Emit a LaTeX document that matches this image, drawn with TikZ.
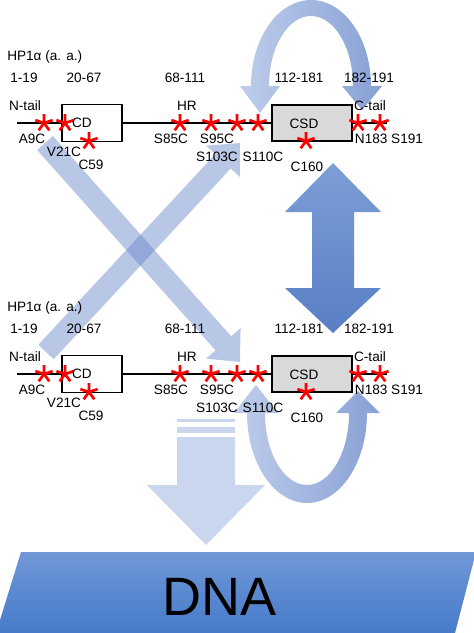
\documentclass[tikz,border=0pt]{standalone}
\usepackage{fontspec}
\setmainfont{Liberation Sans}
\usetikzlibrary{calc}

\definecolor{crossblue}{RGB}{100,130,200}
\definecolor{arcpale}{RGB}{190,205,235}
\definecolor{arcdeep}{RGB}{135,160,212}
\definecolor{bigtop}{RGB}{125,158,214}
\definecolor{bigbot}{RGB}{88,126,198}
\definecolor{downblue}{RGB}{201,214,238}
\definecolor{dnatop}{RGB}{112,152,216}
\definecolor{dnabot}{RGB}{70,122,201}
\definecolor{csdgray}{RGB}{217,217,217}

\begin{document}
\begin{tikzpicture}[x=0.75pt,y=-0.75pt]
        % Define styles for labels, domains and mutations
        \tikzstyle{lbl}=[font=\fontsize{10.2}{12}\selectfont, inner sep=0pt]
        \tikzstyle{domainbox}=[draw=black, line width=1.4pt, inner sep=0pt]
        \tikzstyle{backbone}=[line width=1.2pt]
        \tikzset{mutstar/.pic={\draw[red, line width=2pt] (0,0) -- (0,-9) (0,0) -- (8.6,-2.8) (0,0) -- (-8.6,-2.8)
          (0,0) -- (5.3,7.3) (0,0) -- (-5.3,7.3);}}

        \useasboundingbox (0,0) rectangle (474,633);

        % Crossing arrows
        \coordinate (xat) at (45,143);
        \coordinate (xah) at (240,362);
        \coordinate (xab) at ($(xah)!18.75pt!(xat)$);
        \fill[crossblue, opacity=0.45] ($(xat)!7.9pt!90:(xah)$) -- ($(xab)!7.9pt!90:(xah)$) -- ($(xab)!17.25pt!90:(xah)$) -- (xah)
          -- ($(xab)!17.25pt!-90:(xah)$) -- ($(xab)!7.9pt!-90:(xah)$) -- ($(xat)!7.9pt!-90:(xah)$) -- cycle;
        \coordinate (xbt) at (46,352);
        \coordinate (xbh) at (240,143);
        \coordinate (xbb) at ($(xbh)!18.75pt!(xbt)$);
        \fill[crossblue, opacity=0.45] ($(xbt)!7.9pt!90:(xbh)$) -- ($(xbb)!7.9pt!90:(xbh)$) -- ($(xbb)!17.25pt!90:(xbh)$) -- (xbh)
          -- ($(xbb)!17.25pt!-90:(xbh)$) -- ($(xbb)!7.9pt!-90:(xbh)$) -- ($(xbt)!7.9pt!-90:(xbh)$) -- cycle;

        % Double arrow between the two CSDs
        \shade[top color=bigtop, bottom color=bigbot] (333,163) -- (381,212) -- (354,212) -- (354,288) -- (381,288) -- (333,333)
          -- (285,288) -- (312,288) -- (312,212) -- (285,212) -- cycle;

        % Curved arrows
        \shade[left color=arcpale, right color=arcdeep] (251,86) arc[start angle=180, end angle=360, x radius=60, y radius=86]
          -- (382,86) -- (362,110) -- (342,86) -- (353,86) arc[start angle=360, end angle=180, x radius=42, y radius=70]
          -- (280,86) -- (260,113) -- (240,86) -- cycle;
        \shade[left color=arcpale, right color=arcdeep] (247,413) arc[start angle=180, end angle=0, x radius=60, y radius=90]
          -- (380,413) -- (358,391) -- (336,413) -- (349,413) arc[start angle=0, end angle=180, x radius=42, y radius=72]
          -- (278,413) -- (256,385) -- (234,413) -- cycle;

        % Arrow down to DNA
        \fill[downblue] (177,419) rectangle (235,422);
        \fill[downblue] (177,427) rectangle (235,433);
        \fill[downblue] (177,437) -- (235,437) -- (235,485) -- (265,485) -- (206,545) -- (147,485) -- (177,485) -- cycle;

        % DNA
        \shade[top color=dnatop, bottom color=dnabot] (21,552) -- (476,552) -- (455,633) -- (-4,633) -- cycle;
        \node[font=\fontsize{40.5}{48}\selectfont, inner sep=0pt] (dna) at (220,597) {DNA};

        % HP1a, top
        \node[domainbox, minimum width=45pt, minimum height=27.75pt] (cdA) at (92,123) {};
        \node[domainbox, fill=csdgray, minimum width=60pt, minimum height=27pt] (csdA) at (312,123) {};
        \coordinate (leftA) at (17,123);
        \coordinate (rightA) at (387,123);
        \draw[backbone] (leftA) -- (cdA.west);
        \draw[backbone] (cdA.east) -- (csdA.west);
        \draw[backbone] (csdA.east) -- (rightA);

        \pic at (44,123) {mutstar};
        \pic at (65,123) {mutstar};
        \pic at (89,141) {mutstar};
        \pic at (180,123) {mutstar};
        \pic at (211,123) {mutstar};
        \pic at (237,123) {mutstar};
        \pic at (258,123) {mutstar};
        \pic at (306,141) {mutstar};
        \pic at (358,123) {mutstar};
        \pic at (380,123) {mutstar};

        \node[lbl, anchor=west] (hpA) at (7,57) {HP1α (a. a.)};
        \node[lbl] (r1A) at (24,78) {1-19};
        \node[lbl] (r2A) at (84,78) {20-67};
        \node[lbl] (r3A) at (185,78) {68-111};
        \node[lbl] (r4A) at (299,78) {112-181};
        \node[lbl] (r5A) at (369,78) {182-191};
        \node[lbl] (ntA) at (25,106) {N-tail};
        \node[lbl] (hrA) at (187,106) {HR};
        \node[lbl] (ctA) at (370,106) {C-tail};
        \node[lbl] (cdtA) at (82,123) {CD};
        \node[lbl] (csdtA) at (304,124) {CSD};
        \node[lbl] (a9cA) at (32,139) {A9C};
        \node[lbl] (v21cA) at (64,152) {V21C};
        \node[lbl] (c59A) at (91,165) {C59};
        \node[lbl] (s85cA) at (171,139) {S85C};
        \node[lbl] (s95cA) at (217,139) {S95C};
        \node[lbl] (s103cA) at (217,157) {S103C};
        \node[lbl] (s110cA) at (263,157) {S110C};
        \node[lbl] (c160A) at (307,167) {C160};
        \node[lbl] (n183A) at (389,139) {N183 S191};

        % HP1a, bottom
        \begin{scope}[shift={(0,251)}]
        \node[domainbox, minimum width=45pt, minimum height=27.75pt] (cdB) at (92,123) {};
        \node[domainbox, fill=csdgray, minimum width=60pt, minimum height=27pt] (csdB) at (312,123) {};
        \coordinate (leftB) at (17,123);
        \coordinate (rightB) at (387,123);
        \draw[backbone] (leftB) -- (cdB.west);
        \draw[backbone] (cdB.east) -- (csdB.west);
        \draw[backbone] (csdB.east) -- (rightB);

        \pic at (44,123) {mutstar};
        \pic at (65,123) {mutstar};
        \pic at (89,141) {mutstar};
        \pic at (180,123) {mutstar};
        \pic at (211,123) {mutstar};
        \pic at (237,123) {mutstar};
        \pic at (258,123) {mutstar};
        \pic at (306,141) {mutstar};
        \pic at (358,123) {mutstar};
        \pic at (380,123) {mutstar};

        \node[lbl, anchor=west] (hpB) at (7,57) {HP1α (a. a.)};
        \node[lbl] (r1B) at (24,78) {1-19};
        \node[lbl] (r2B) at (84,78) {20-67};
        \node[lbl] (r3B) at (185,78) {68-111};
        \node[lbl] (r4B) at (299,78) {112-181};
        \node[lbl] (r5B) at (369,78) {182-191};
        \node[lbl] (ntB) at (25,106) {N-tail};
        \node[lbl] (hrB) at (187,106) {HR};
        \node[lbl] (ctB) at (370,106) {C-tail};
        \node[lbl] (cdtB) at (82,123) {CD};
        \node[lbl] (csdtB) at (304,124) {CSD};
        \node[lbl] (a9cB) at (32,139) {A9C};
        \node[lbl] (v21cB) at (64,152) {V21C};
        \node[lbl] (c59B) at (91,165) {C59};
        \node[lbl] (s85cB) at (171,139) {S85C};
        \node[lbl] (s95cB) at (217,139) {S95C};
        \node[lbl] (s103cB) at (217,157) {S103C};
        \node[lbl] (s110cB) at (263,157) {S110C};
        \node[lbl] (c160B) at (307,167) {C160};
        \node[lbl] (n183B) at (389,139) {N183 S191};
        \end{scope}

      \end{tikzpicture}
\end{document}
